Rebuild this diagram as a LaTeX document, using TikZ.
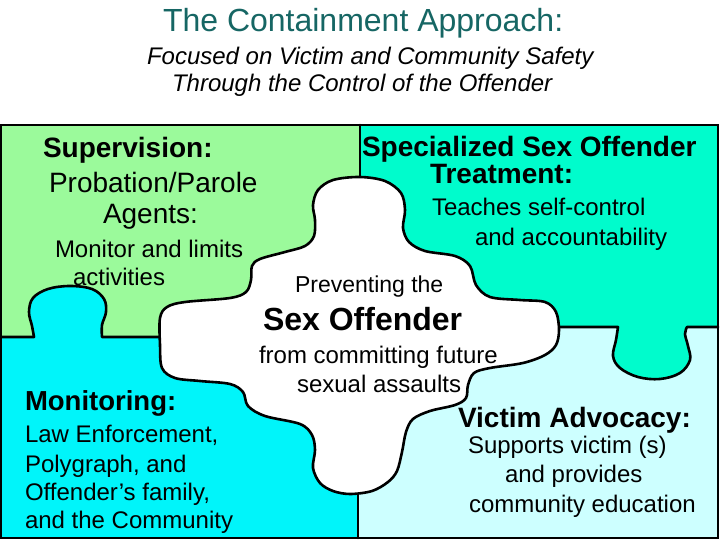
\documentclass[tikz,border=0pt]{standalone}
\usepackage{fontspec}
\setmainfont{Liberation Sans}
\definecolor{titlecol}{RGB}{22,102,100}
\definecolor{greenc}{RGB}{155,250,155}
\definecolor{tealc}{RGB}{0,252,204}
\definecolor{cyanc}{RGB}{0,245,250}
\definecolor{lcyanc}{RGB}{205,255,255}
\newcommand{\fsz}[1]{\fontsize{#1}{#1}\selectfont}
\begin{document}
\begin{tikzpicture}[x=1pt,y=-1pt,
  txt/.style={anchor=base west, inner sep=0pt, outer sep=0pt, font=\fsz{24}},
  head/.style={txt, font=\fsz{28}\bfseries},
  edge/.style={line width=2.6pt, line join=round, line cap=round}]
\useasboundingbox (0,0) rectangle (720,540);
% quadrant fills
\fill[greenc] (1,125) rectangle (360,337);
\fill[tealc] (360,125) rectangle (718,327);
\fill[cyanc] (1,337) rectangle (358,538);
\fill[lcyanc] (358,327) rectangle (718,538);
% tabs
\fill[cyanc] plot[smooth, tension=0.6] coordinates {(34,338) (32,326) (29,312) (33,298) (48,289) (70,286) (92,289) (104,299) (106,312) (102,325) (102,338)} -- cycle;
\fill[tealc] plot[smooth, tension=0.6] coordinates {(618,326) (616,340) (613,356) (620,368) (638,377) (660,379) (680,373) (690,360) (688,346) (685,334) (687,326)} -- cycle;
% dividing lines
\coordinate (lA) at (1,337);
\coordinate (lB) at (175,337);
\coordinate (rA) at (545,327);
\coordinate (rB) at (718,327);
\coordinate (tA) at (360,125);
\coordinate (tB) at (360,190);
\coordinate (bA) at (358,480);
\coordinate (bB) at (358,538);
\draw[edge] (lA) -- plot[smooth, tension=0.6] coordinates {(34,337) (32,326) (29,312) (33,298) (48,289) (70,286) (92,289) (104,299) (106,312) (102,325) (102,337)} -- (lB);
\draw[edge] (rA) -- plot[smooth, tension=0.6] coordinates {(618,327) (616,340) (613,356) (620,368) (638,377) (660,379) (680,373) (690,360) (688,346) (685,334) (687,327)} -- (rB);
\draw[edge] (tA) -- (tB);
\draw[edge] (bA) -- (bB);
% frame
\draw[line width=2.6pt] (1,125) rectangle (718,538);
% central blob
\draw[edge, fill=white] plot[smooth cycle, tension=0.55] coordinates {
 (360,177) (385,181) (401,193) (405,210) (403,228) (409,242) (425,251) (455,256)
 (470,266) (476,285) (490,297) (520,300) (545,302) (556,312) (559,330) (556,345)
 (545,355) (523,363) (490,368) (474,373) (468,385) (466,398) (455,405) (430,411)
 (413,419) (406,432) (402,452) (397,471) (388,482) (372,491) (350,494) (333,491)
 (320,483) (313,468) (315,450) (312,435) (300,424) (265,416) (248,406) (243,392)
 (230,384) (200,381) (175,378) (162,368) (160,345) (160,318) (167,307) (185,302)
 (230,298) (246,292) (251,280) (252,266) (260,259) (285,252) (305,246) (314,236)
 (315,220) (313,205) (318,190) (333,180)};
% title
\node[txt, font=\fsz{32}, text=titlecol] (title) at (163,32) {The Containment Approach:};
\node[txt, font=\fsz{24}\itshape] (sub1) at (147,65) {Focused on Victim and Community Safety};
\node[txt, font=\fsz{24}\itshape] (sub2) at (172,92) {Through the Control of the Offender};
% supervision
\node[head] (sup) at (43,158) {Supervision:};
\node[txt, font=\fsz{28}] (sup1) at (49,193) {Probation/Parole};
\node[txt, font=\fsz{28}] (sup2) at (103,224) {Agents:};
\node[txt] (sup3) at (55,257) {Monitor and limits};
\node[txt] (sup4) at (73,285) {activities};
% treatment
\node[head] (trt) at (362,157) {Specialized Sex Offender};
\node[head] (trt1) at (430,183.5) {Treatment:};
\node[txt] (trt2) at (432,215) {Teaches self-control};
\node[txt] (trt3) at (475,245) {and accountability};
% center
\node[txt, font=\fsz{23}] (c1) at (295,292) {Preventing the};
\node[txt, font=\fsz{32}\bfseries] (c2) at (263,330) {Sex Offender};
\node[txt] (c3) at (259,363) {from committing future};
\node[txt] (c4) at (297,392) {sexual assaults};
% monitoring
\node[head, font=\fsz{27.5}\bfseries] (mon) at (25,410) {Monitoring:};
\node[txt] (mon1) at (25,442) {Law Enforcement,};
\node[txt] (mon2) at (25,472) {Polygraph, and};
\node[txt] (mon3) at (25,500) {Offender’s family,};
\node[txt] (mon4) at (25,528) {and the Community};
% victim advocacy
\node[head] (vic) at (458,427) {Victim Advocacy:};
\node[txt] (vic1) at (468,453) {Supports victim (s)};
\node[txt] (vic2) at (505,482) {and provides};
\node[txt] (vic3) at (469,512) {community education};
\end{tikzpicture}
\end{document}
